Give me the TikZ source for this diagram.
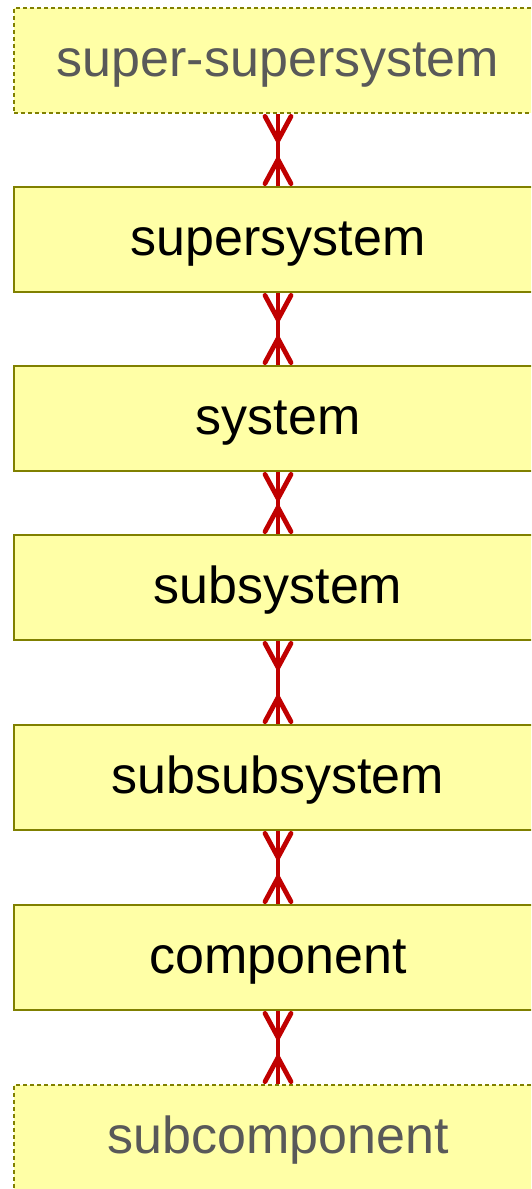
\documentclass[tikz,border=0pt]{standalone}
\usepackage{fontspec}
\setmainfont{Liberation Sans}
\usetikzlibrary{arrows.meta,positioning}

\definecolor{boxfill}{HTML}{FFFFA6}
\definecolor{boxline}{HTML}{808000}
\definecolor{linkred}{HTML}{C00000}
\definecolor{faint}{HTML}{595959}

\tikzset{
    level/.style={draw=boxline, fill=boxfill, line width=1pt,
        minimum width=264pt, minimum height=52.5pt,
        text height=21pt, text depth=5.5pt,
        font=\fontsize{26}{30}\selectfont},
    outer/.style={level, dash pattern=on 2pt off 1.5pt, text=faint},
    crowfoot/.tip={Straight Barb[reversed, round, length=12pt, width=13pt, line width=2.4pt]},
    link/.style={draw=linkred, line width=2.4pt,
        postaction={draw, crowfoot-crowfoot}}
}

\begin{document}
\begin{tikzpicture}[x=0.5pt, y=-0.5pt]
    \useasboundingbox (0,0) rectangle (531,1189);
    \clip (0,0) rectangle (531,1189);
    \node[outer] (ssup) at (278,60.5) {super-supersystem};
    \node[level, below=36pt of ssup] (sup) {supersystem};
    \node[level, below=36pt of sup] (sys) {system};
    \node[level, below=31pt of sys] (sub) {subsystem};
    \node[level, below=41.5pt of sub] (subsub) {subsubsystem};
    \node[level, below=36.5pt of subsub] (comp) {component};
    \node[outer, below=36.5pt of comp] (subcomp) {subcomponent};
    \path (ssup) edge[link] (sup)
          (sup) edge[link] (sys)
          (sys) edge[link] (sub)
          (sub) edge[link] (subsub)
          (subsub) edge[link] (comp)
          (comp) edge[link] (subcomp);
\end{tikzpicture}
\end{document}
